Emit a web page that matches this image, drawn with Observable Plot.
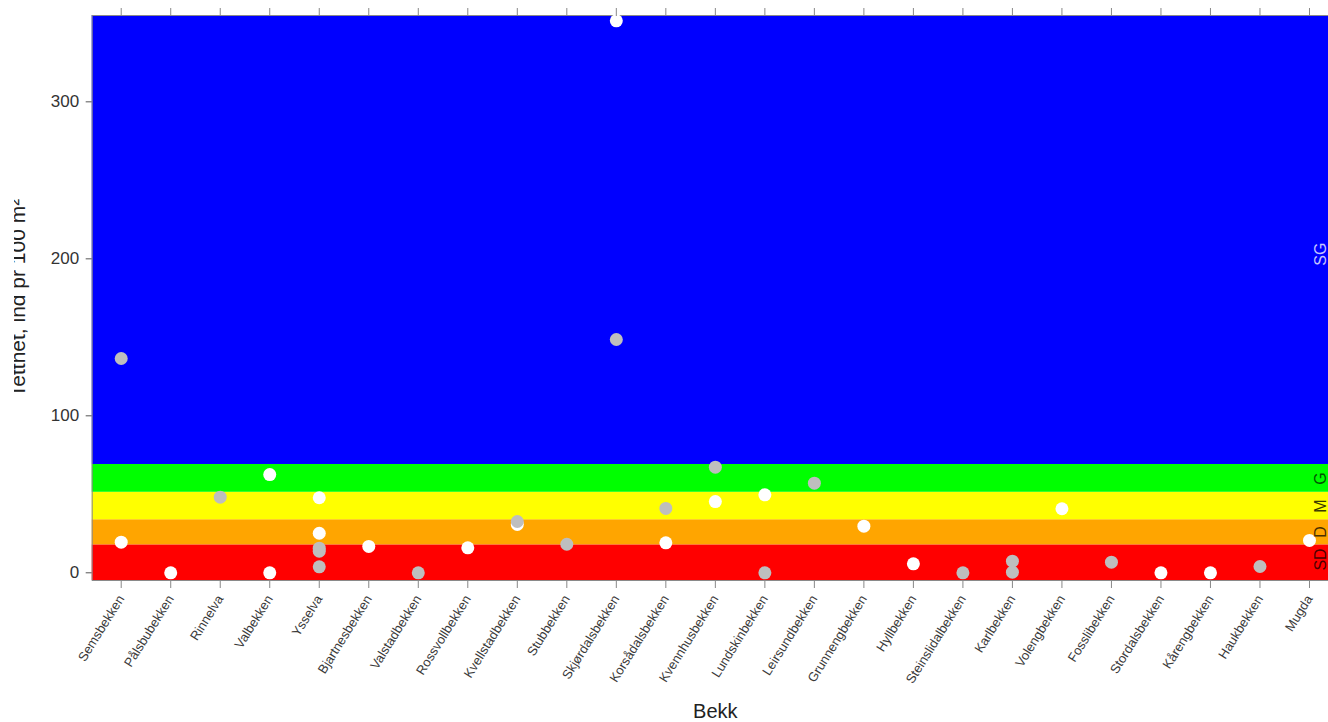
<!DOCTYPE html>
<html>
<head>
<meta charset="utf-8">
<script src="https://cdn.jsdelivr.net/npm/d3@7"></script>
<script src="https://cdn.jsdelivr.net/npm/@observablehq/plot@0.6"></script>
<style>
  html, body { margin: 0; padding: 0; background: white; overflow: hidden; }
  #chart { margin-left: 14px; width: 1314px; }
  #chart svg { overflow: hidden; display: block; }
</style>
</head>
<body>
<div id="chart"></div>
<script>
// Streams (x categories)
const bekker = ["Semsbekken","Pålsbubekken","Rinnelva","Valbekken","Ysselva","Bjartnesbekken",
  "Valstadbekken","Rossvollbekken","Kvellstadbekken","Stubbekken","Skjørdalsbekken","Korsådalsbekken",
  "Kvennhusbekken","Lundskinbekken","Leirsundbekken","Grunnengbekken","Hyllbekken","Steinslidalbekken",
  "Karlbekken","Volengbekken","Fosslibekken","Stordalsbekken","Kårengbekken","Haukbekken","Mugda"];

// Density values per stream (ind pr 100 m²), white points
const hvit = [[19.5],[0],[],[62.6,0],[47.8,25.2],[16.8],[],[15.9],[30.8],[],[351.6],[19.1],
  [45.4],[49.7],[],[29.7],[5.7],[],[],[40.8],[],[0],[0],[],[20.6]];
// Density values per stream, grey points
const graa = [[136.5],[],[48.2],[],[15.7,13.8,3.8],[],[0],[],[32.7],[18.2],[148.6],[41],
  [67.3],[0],[57.1],[],[],[0],[7.4,0.4],[],[6.8],[],[],[4.0],[]];

// Condition classes (bands)
const klasser = ["SD","D","M","G","SG"];
const klasseFra = [-4.9, 17.8, 33.8, 51.3, 69];
const klasseTil = [17.8, 33.8, 51.3, 69, 355];
const klasseFarger = ["#ff0000","#ffa500","#ffff00","#00ff00","#0000ff"];
const klasseLabelY = [8.5, 26, 42.5, 60, 203];
const klasseTekstFarger = ["#4a0000","#4a3000","#3a3a00","#005400","#c4c4ff"];

const yTicks = [0, 100, 200, 300];

const toPoints = arr => arr.flatMap((vals, i) => vals.map(v => ({i: i + 1, v})));
const hvitPts = toPoints(hvit);
const graaPts = toPoints(graa);
const bands = klasser.map((k, j) => ({k, y1: klasseFra[j], y2: klasseTil[j], ly: klasseLabelY[j], tc: klasseTekstFarger[j]}));
const idx = bekker.map((_, i) => i + 1);

const chart = Plot.plot({
  width: 1314,
  height: 722,
  marginLeft: 77.7,
  marginRight: 0,
  marginTop: 15,
  marginBottom: 142,
  style: {fontFamily: "'Liberation Sans', Arial, sans-serif", color: "#333", background: "white"},
  x: {type: "linear", domain: [0.414, 25.384], axis: null},
  y: {domain: [-4.9, 355], axis: null},
  color: {domain: klasser, range: klasseFarger},
  marks: [
    Plot.rectY(bands, {y1: "y1", y2: "y2", fill: "k"}),
    Plot.frame({stroke: "#8a8a8a", strokeWidth: 1}),
    Plot.dot(hvitPts, {x: "i", y: "v", r: 6.5, fill: "white", stroke: null}),
    Plot.dot(graaPts, {x: "i", y: "v", r: 6.5, fill: "#bebebe", stroke: null}),
    Plot.text(bands, {y: "ly", text: "k", frameAnchor: "right", dx: -3, rotate: -90,
      lineAnchor: "bottom", textAnchor: "middle", fontSize: 16, fill: d => d.tc}),
    Plot.axisY({ticks: yTicks, tickSize: 6, tickPadding: 7, fontSize: 17, label: null, stroke: "#555"}),
    Plot.axisX({anchor: "top", ticks: idx, tickSize: 8, tickFormat: () => "", label: null, stroke: "#888"}),
    Plot.axisX({anchor: "bottom", ticks: idx, tickSize: 8, tickPadding: 8, tickRotate: -58,
      tickFormat: i => bekker[i - 1], fontSize: 13, label: null, stroke: "#888", fill: "#3a3a3a"}),
    Plot.text(["Tetthet, ind pr 100 m²"], {frameAnchor: "left", dx: -67.7, rotate: -90,
      lineAnchor: "bottom", textAnchor: "middle", fontSize: 21, fill: "#222"}),
    Plot.text(["Bekk"], {frameAnchor: "bottom", dx: 5, dy: 131, lineAnchor: "middle",
      textAnchor: "middle", fontSize: 20, fill: "#222"})
  ]
});
document.getElementById("chart").appendChild(chart);
</script>
</body>
</html>
